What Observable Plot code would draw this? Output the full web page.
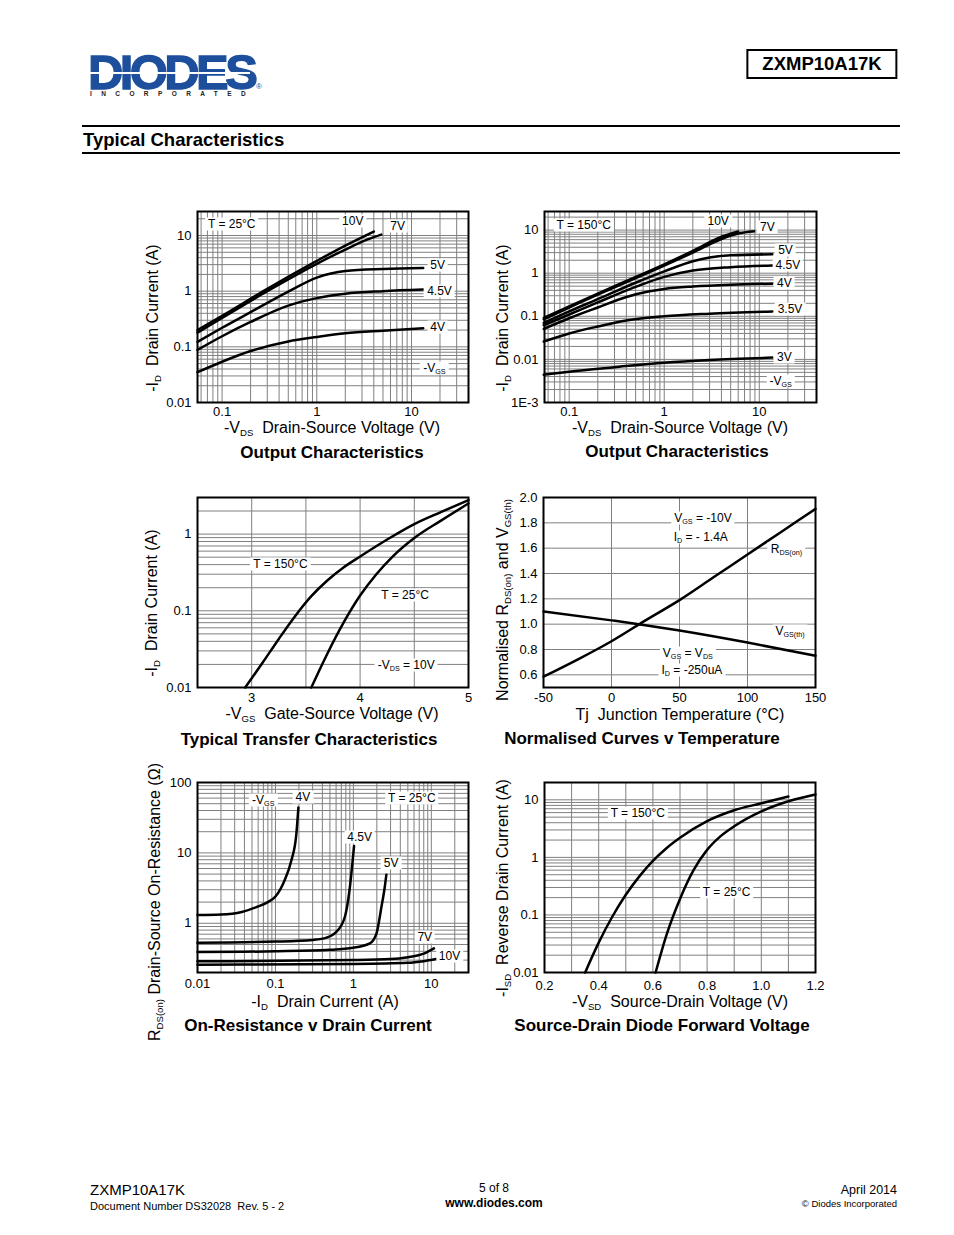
<!DOCTYPE html>
<html><head><meta charset="utf-8">
<script src="https://cdn.jsdelivr.net/npm/d3@7"></script>
<script src="https://cdn.jsdelivr.net/npm/@observablehq/plot@0.6"></script>
<style>
html,body{margin:0;padding:0;background:#fff;}
#page{position:relative;width:954px;height:1235px;overflow:hidden;font-family:"Liberation Sans",Arial,sans-serif;color:#000;}
.t{position:absolute;white-space:nowrap;line-height:1.15;}
.ax{line-height:14px;}
.lab{position:absolute;white-space:nowrap;background:#fff;font-size:12px;line-height:13px;padding:0 3px;transform:translate(-50%,-50%);}
sub{font-size:0.6em;vertical-align:-0.35em;line-height:0;}
svg{position:absolute;}
#logo{position:absolute;left:88px;top:55px;white-space:nowrap;}
#logo .big{display:block;font-size:49px;font-weight:700;line-height:34px;color:#1d4f9c;letter-spacing:-3.6px;-webkit-text-stroke:1.3px #1d4f9c;}
#logo .small{display:block;font-size:6.5px;font-weight:700;line-height:8px;margin-top:1px;margin-left:2px;letter-spacing:9.4px;color:#222;}
</style></head><body><div id="page"></div>
<script>
// ---------- DATA ----------
// Output characteristics, T = 25°C : [-VDS (V), -ID (A)]
const out25_10V = [[0.055,0.20],[0.1,0.36],[0.3,1.1],[1,3.5],[2,6.6],[4,11.8]];
const out25_7V  = [[0.055,0.18],[0.1,0.33],[0.3,1.0],[1,3.1],[2,5.6],[3.5,8.6],[4.8,10.4]];
const out25_5V  = [[0.055,0.123],[0.1,0.22],[0.2,0.42],[0.5,0.98],[1,1.75],[2,2.3],[5,2.5],[13.3,2.6]];
const out25_45V = [[0.055,0.088],[0.1,0.155],[0.2,0.28],[0.5,0.55],[1,0.75],[2,0.9],[5,1.0],[13.3,1.07]];
const out25_4V  = [[0.055,0.035],[0.1,0.054],[0.2,0.084],[0.5,0.125],[1,0.15],[2,0.175],[5,0.195],[13.3,0.215]];
const out25_labels = [
  {x:0.128,y:15.8,t:"T = 25°C"},{x:2.43,y:17.9,t:"10V"},{x:7.24,y:14.5,t:"7V"},
  {x:19.1,y:2.88,t:"5V"},{x:20.0,y:0.98,t:"4.5V"},{x:19.1,y:0.22,t:"4V"},{x:17.7,y:0.040,t:"-V<sub>GS</sub>"}];

// Output characteristics, T = 150°C
const out150_10V = [[0.054,0.092],[0.1,0.17],[0.3,0.5],[1,1.6],[2,3.3],[4,7.0],[6,9.3]];
const out150_7V  = [[0.054,0.085],[0.1,0.16],[0.3,0.47],[1,1.5],[2,3.0],[4,6.2],[6,8.3],[8.8,9.4]];
const out150_5V  = [[0.054,0.07],[0.1,0.13],[0.2,0.25],[0.5,0.6],[1,1.1],[2,1.9],[3,2.3],[5,2.6],[13.7,2.75]];
const out150_45V = [[0.054,0.062],[0.1,0.11],[0.2,0.21],[0.5,0.48],[1,0.82],[2,1.15],[5,1.38],[13.7,1.5]];
const out150_4V  = [[0.054,0.051],[0.1,0.09],[0.2,0.16],[0.4,0.28],[0.7,0.38],[1,0.43],[2,0.49],[5,0.54],[13.7,0.57]];
const out150_35V = [[0.054,0.026],[0.1,0.04],[0.2,0.058],[0.4,0.08],[1,0.1],[3,0.115],[13.7,0.13]];
const out150_3V  = [[0.054,0.0044],[0.1,0.0052],[0.3,0.0066],[1,0.0084],[3,0.0097],[13.7,0.011]];
const out150_labels = [
  {x:0.144,y:12.6,t:"T = 150°C"},{x:3.74,y:15.6,t:"10V"},{x:12.3,y:11.3,t:"7V"},
  {x:19.1,y:3.3,t:"5V"},{x:20.2,y:1.48,t:"4.5V"},{x:18.6,y:0.59,t:"4V"},
  {x:21.3,y:0.14,t:"3.5V"},{x:18.6,y:0.011,t:"3V"},{x:17.0,y:0.003,t:"-V<sub>GS</sub>"}];

// Typical transfer characteristics : [-VGS (V), -ID (A)]
const transfer_150 = [[2.94,0.01],[3.1,0.021],[3.25,0.043],[3.4,0.085],[3.55,0.155],[3.7,0.25],[3.85,0.37],[4.0,0.51],[4.25,0.85],[4.5,1.35],[4.75,1.95],[5,2.78]];
const transfer_25  = [[3.55,0.01],[3.7,0.028],[3.85,0.071],[4.0,0.158],[4.15,0.30],[4.3,0.51],[4.5,0.89],[4.75,1.51],[5,2.51]];
const transfer_labels = [
  {x:3.27,y:0.405,t:"T = 150°C"},{x:4.42,y:0.16,t:"T = 25°C"},{x:4.43,y:0.0194,t:"-V<sub>DS</sub> = 10V"}];

// Normalised curves v temperature : [Tj (°C), normalised value]
const norm_rdson = [[-50,0.585],[-25,0.72],[0,0.865],[25,1.03],[50,1.19],[75,1.37],[100,1.55],[125,1.73],[150,1.91]];
const norm_vgsth = [[-50,1.10],[0,1.03],[20,1.0],[50,0.95],[100,0.855],[150,0.75]];
const norm_labels = [
  {x:67.6,y:1.833,t:"V<sub>GS</sub> = -10V"},{x:66,y:1.685,t:"I<sub>D</sub> = - 1.4A"},
  {x:129,y:1.59,t:"R<sub>DS(on)</sub>"},{x:131.6,y:0.94,t:"V<sub>GS(th)</sub>"},
  {x:56.5,y:0.77,t:"V<sub>GS</sub> = V<sub>DS</sub>"},{x:59.5,y:0.636,t:"I<sub>D</sub> = -250uA"}];

// On-resistance v drain current : [-ID (A), RDS(on) (Ω)]
const ron_4V  = [[0.01,1.31],[0.02,1.33],[0.037,1.45],[0.057,1.7],[0.08,2.0],[0.1,2.4],[0.13,4.0],[0.16,7.8],[0.185,18],[0.197,44]];
const ron_45V = [[0.01,0.53],[0.1,0.55],[0.3,0.58],[0.42,0.61],[0.6,0.75],[0.78,1.25],[0.9,3.2],[0.97,7],[1.02,12.5]];
const ron_5V  = [[0.01,0.39],[0.1,0.40],[0.5,0.42],[1,0.45],[1.63,0.52],[1.98,0.72],[2.29,1.7],[2.52,3.2],[2.65,4.9]];
const ron_7V  = [[0.01,0.288],[1,0.30],[3,0.31],[5,0.33],[8,0.37],[10.8,0.44]];
const ron_10V = [[0.01,0.258],[1,0.265],[5,0.275],[8,0.29],[11.5,0.31]];
const ron_labels = [
  {x:0.0708,y:55,t:"-V<sub>GS</sub>"},{x:0.228,y:60.8,t:"4V"},{x:5.7,y:58.8,t:"T = 25°C"},
  {x:1.22,y:16.5,t:"4.5V"},{x:3.1,y:7.06,t:"5V"},{x:8.37,y:0.62,t:"7V"},{x:17.4,y:0.334,t:"10V"}];

// Source-drain diode forward voltage : [-VSD (V), -ISD (A)]
const diode_150 = [[0.35,0.01],[0.4,0.033],[0.45,0.093],[0.5,0.224],[0.55,0.468],[0.6,0.871],[0.65,1.445],[0.7,2.19],[0.8,4.27],[0.9,6.6],[1.0,8.7],[1.1,11.4]];
const diode_25  = [[0.61,0.01],[0.65,0.0447],[0.7,0.19],[0.75,0.60],[0.8,1.35],[0.85,2.34],[0.9,3.47],[1.0,6.3],[1.1,9.44],[1.2,12.4]];
const diode_labels = [{x:0.546,y:5.78,t:"T = 150°C"},{x:0.874,y:0.244,t:"T = 25°C"}];

// ---------- helpers ----------
const page = document.getElementById("page");
const FONT = '"Liberation Sans", Arial, sans-serif';

function logGrid(lo, hi) {
  const out = [];
  for (let e = Math.floor(Math.log10(lo)); e <= Math.ceil(Math.log10(hi)); e++)
    for (let m = 1; m <= 9; m++) { const v = m * Math.pow(10, e); if (v > lo * 1.0001 && v < hi * 0.9999) out.push(v); }
  return out;
}
function txt(x, y, html, {size = 16, weight = 400, align = "left", rotate = 0, cls = ""} = {}) {
  const d = document.createElement("div");
  d.className = "t " + cls; d.innerHTML = html;
  d.style.fontSize = size + "px"; d.style.fontWeight = weight;
  d.style.left = x + "px"; d.style.top = y + "px";
  const tx = align === "left" ? "0" : align === "center" ? "-50%" : "-100%";
  d.style.transform = `translate(${tx},-50%)` + (rotate ? ` rotate(${rotate}deg)` : "");
  page.appendChild(d);
  return d;
}
function chart({left, top, w, h, x, y, gx, gy, grid = "#808080", curves, labels, xTicks, yTicks, xFmt, yFmt, xPad = 6}) {
  const mL = 60, mR = 14, mT = 10, mB = 30;
  const plot = Plot.plot({
    width: mL + w + mR, height: mT + h + mB,
    marginLeft: mL, marginRight: mR, marginTop: mT, marginBottom: mB,
    style: {fontFamily: FONT, fontSize: "13px", background: "none", overflow: "visible", color: "#000"},
    x: {...x, ticks: xTicks, tickFormat: xFmt, tickSize: 0, tickPadding: xPad, label: null},
    y: {...y, ticks: yTicks, tickFormat: yFmt, tickSize: 0, tickPadding: 6, label: null},
    marks: [
      Plot.ruleX(gx, {stroke: grid, strokeWidth: 1}),
      Plot.ruleY(gy, {stroke: grid, strokeWidth: 1}),
      ...curves.map(c => Plot.line(c, {x: d => d[0], y: d => d[1], stroke: "#000", strokeWidth: 2.5, curve: "monotone-x"})),
      Plot.frame({stroke: "#000", strokeWidth: 2})
    ]
  });
  const ox = left - mL, oy = top - mT;
  plot.style.left = ox + "px"; plot.style.top = oy + "px";
  page.appendChild(plot);
  const sx = plot.scale("x"), sy = plot.scale("y");
  const fx = sx && sx.apply ? v => sx.apply(v) : (x.type === "log" ? d3.scaleLog() : d3.scaleLinear()).domain(x.domain).range([mL, mL + w]);
  const fy = sy && sy.apply ? v => sy.apply(v) : (y.type === "log" ? d3.scaleLog() : d3.scaleLinear()).domain(y.domain).range([mT + h, mT]);
  for (const l of labels) {
    const d = document.createElement("div");
    d.className = "lab"; d.innerHTML = l.t;
    d.style.left = (ox + fx(l.x)) + "px"; d.style.top = (oy + fy(l.y)) + "px";
    page.appendChild(d);
  }
}
const fmtNum = d => d === 0.001 ? "1E-3" : String(+d.toPrecision(6));

// ---------- header ----------
const logo = document.createElement("div");
logo.id = "logo";
logo.innerHTML = '<span class="big">DIODES</span><span class="small">INCORPORATED</span>';
page.appendChild(logo);
const stripe = document.createElement("div");
Object.assign(stripe.style, {position: "absolute", left: "90px", top: "72px", width: "160px", height: "2px", background: "#fff"});
page.appendChild(stripe);
const reg = txt(256, 87, "®", {size: 8}); Object.assign(reg.style, {color: "#1d4f9c", lineHeight: "1"});
const box = txt(822, 63.5, "ZXMP10A17K", {size: 18.5, weight: 700, align: "center"});
Object.assign(box.style, {border: "2px solid #000", padding: "3px 14px 3px 14px", lineHeight: "20px"});
for (const yy of [125, 152]) {
  const r = document.createElement("div");
  Object.assign(r.style, {position: "absolute", left: "82px", top: yy + "px", width: "818px", height: "2px", background: "#000"});
  page.appendChild(r);
}
txt(83, 140, "Typical Characteristics", {size: 18.5, weight: 700});

// ---------- charts ----------
chart({left: 197, top: 211, w: 271, h: 191, xPad: 4,
  x: {type: "log", domain: [0.055, 40]}, y: {type: "log", domain: [0.01, 27]},
  gx: logGrid(0.055, 40), gy: logGrid(0.01, 27),
  xTicks: [0.1, 1, 10], yTicks: [0.01, 0.1, 1, 10], xFmt: fmtNum, yFmt: fmtNum,
  curves: [out25_10V, out25_7V, out25_5V, out25_45V, out25_4V], labels: out25_labels});

chart({left: 544, top: 211, w: 272, h: 191, xPad: 4,
  x: {type: "log", domain: [0.055, 40]}, y: {type: "log", domain: [0.001, 27]},
  gx: logGrid(0.055, 40), gy: logGrid(0.001, 27),
  xTicks: [0.1, 1, 10], yTicks: [0.001, 0.01, 0.1, 1, 10], xFmt: fmtNum, yFmt: fmtNum,
  curves: [out150_10V, out150_7V, out150_5V, out150_45V, out150_4V, out150_35V, out150_3V], labels: out150_labels});

chart({left: 197, top: 497, w: 271, h: 190, xPad: 5,
  x: {type: "linear", domain: [2.5, 5]}, y: {type: "log", domain: [0.01, 3]},
  gx: d3.range(3, 5, 0.5), gy: logGrid(0.01, 3),
  xTicks: [3, 4, 5], yTicks: [0.01, 0.1, 1], xFmt: fmtNum, yFmt: fmtNum,
  curves: [transfer_150, transfer_25], labels: transfer_labels});

chart({left: 543, top: 497, w: 272, h: 190, xPad: 5,
  x: {type: "linear", domain: [-50, 150]}, y: {type: "linear", domain: [0.5, 2.0]},
  gx: [0, 50, 100], gy: d3.range(0.6, 1.9, 0.2),
  xTicks: [-50, 0, 50, 100, 150], yTicks: d3.range(0.6, 2.01, 0.2), xFmt: d => String(d), yFmt: d => d.toFixed(1),
  curves: [norm_rdson, norm_vgsth], labels: norm_labels});

chart({left: 197, top: 782, w: 271, h: 190, xPad: 6,
  x: {type: "log", domain: [0.01, 30]}, y: {type: "log", domain: [0.2, 100]},
  gx: logGrid(0.01, 30), gy: logGrid(0.2, 100),
  xTicks: [0.01, 0.1, 1, 10], yTicks: [1, 10, 100], xFmt: fmtNum, yFmt: fmtNum,
  curves: [ron_4V, ron_45V, ron_5V, ron_7V, ron_10V], labels: ron_labels});

chart({left: 544, top: 782, w: 271, h: 190, xPad: 8,
  x: {type: "linear", domain: [0.2, 1.2]}, y: {type: "log", domain: [0.01, 20]},
  gx: d3.range(0.3, 1.15, 0.1), gy: logGrid(0.01, 20),
  xTicks: d3.range(0.2, 1.25, 0.2), yTicks: [0.01, 0.1, 1, 10], xFmt: d => d.toFixed(1), yFmt: fmtNum,
  curves: [diode_150, diode_25], labels: diode_labels});

// ---------- axis titles & chart titles ----------
const AX = {align: "center", cls: "ax"};
const AY = {align: "center", cls: "ax", rotate: -90};
const TT = {size: 17, weight: 700, align: "center"};
txt(153, 318, "-I<sub>D</sub>&nbsp; Drain Current (A)", AY);
txt(332, 428, "-V<sub>DS</sub>&nbsp; Drain-Source Voltage (V)", AX);
txt(332, 453, "Output Characteristics", TT);

txt(503, 318, "-I<sub>D</sub>&nbsp; Drain Current (A)", AY);
txt(680, 428, "-V<sub>DS</sub>&nbsp; Drain-Source Voltage (V)", AX);
txt(677, 452, "Output Characteristics", TT);

txt(152, 603, "-I<sub>D</sub>&nbsp; Drain Current (A)", AY);
txt(332, 713.5, "-V<sub>GS</sub>&nbsp; Gate-Source Voltage (V)", AX);
txt(309, 740, "Typical Transfer Characteristics", TT);

txt(503, 600, "Normalised R<sub>DS(on)</sub> and V<sub>GS(th)</sub>", AY);
txt(680, 715, "Tj&nbsp; Junction Temperature (°C)", AX);
txt(642, 739, "Normalised Curves v Temperature", TT);

txt(155, 902, "R<sub>DS(on)</sub> Drain-Source On-Resistance (Ω)", AY);
txt(325, 1002, "-I<sub>D</sub>&nbsp; Drain Current (A)", AX);
txt(308, 1026, "On-Resistance v Drain Current", TT);

txt(503, 888, "-I<sub>SD</sub>&nbsp; Reverse Drain Current (A)", AY);
txt(680, 1001.5, "-V<sub>SD</sub>&nbsp; Source-Drain Voltage (V)", AX);
txt(662, 1026, "Source-Drain Diode Forward Voltage", TT);

// ---------- footer ----------
txt(90, 1190, "ZXMP10A17K", {size: 15});
txt(90, 1206, "Document Number DS32028&nbsp; Rev. 5 - 2", {size: 11});
txt(494, 1189, "5 of 8", {size: 12, align: "center"});
txt(494, 1204, "www.diodes.com", {size: 12, weight: 700, align: "center"});
txt(897, 1190, "April 2014", {size: 12.5, align: "right"});
txt(897, 1204, "© Diodes Incorporated", {size: 9.5, align: "right"});
</script></body></html>
